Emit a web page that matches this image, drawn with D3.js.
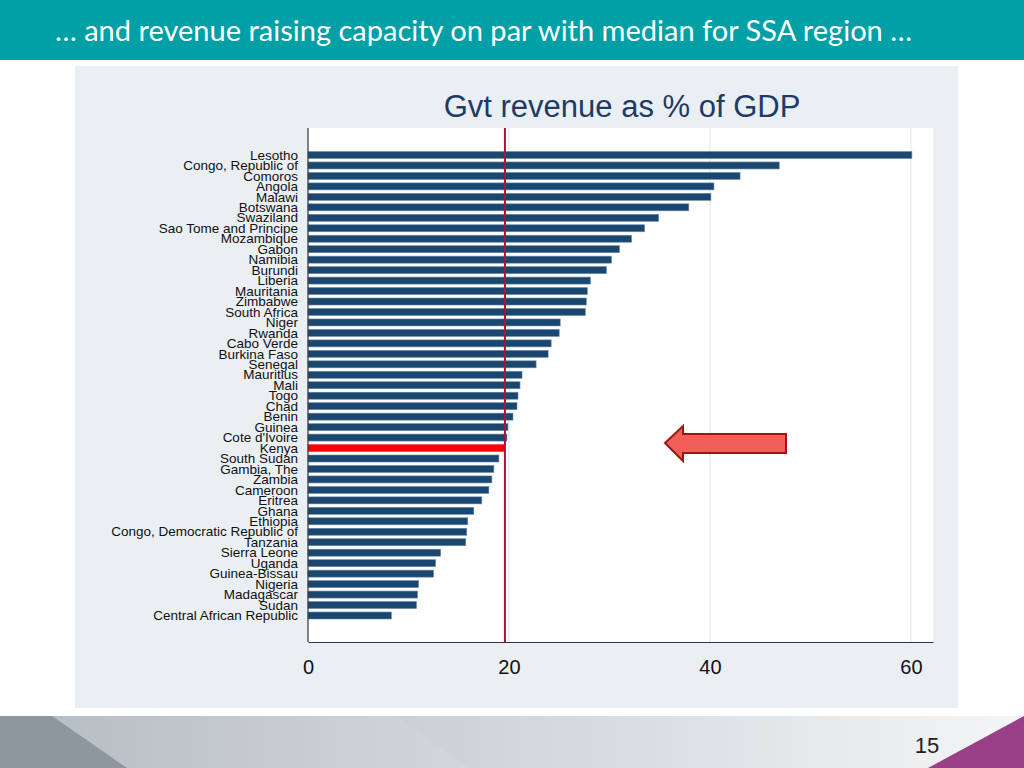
<!DOCTYPE html>
<html>
<head>
<meta charset="utf-8">
<script src="https://cdn.jsdelivr.net/npm/d3@7/dist/d3.min.js"></script>
<style>
  html, body { margin: 0; padding: 0; background: #ffffff; }
  svg { display: block; }
</style>
</head>
<body>
<svg id="chart" width="1024" height="768"></svg>
<script>
// ---- Data ----
const countries = [
  "Lesotho", "Congo, Republic of", "Comoros", "Angola", "Malawi", "Botswana",
  "Swaziland", "Sao Tome and Principe", "Mozambique", "Gabon", "Namibia", "Burundi",
  "Liberia", "Mauritania", "Zimbabwe", "South Africa", "Niger", "Rwanda",
  "Cabo Verde", "Burkina Faso", "Senegal", "Mauritius", "Mali", "Togo", "Chad",
  "Benin", "Guinea", "Cote d'Ivoire", "Kenya", "South Sudan", "Gambia, The",
  "Zambia", "Cameroon", "Eritrea", "Ghana", "Ethiopia", "Congo, Democratic Republic of",
  "Tanzania", "Sierra Leone", "Uganda", "Guinea-Bissau", "Nigeria", "Madagascar",
  "Sudan", "Central African Republic"
];
const revenue = [
  60.1, 46.9, 43.0, 40.4, 40.1, 37.9,
  34.9, 33.5, 32.2, 31.0, 30.2, 29.7,
  28.1, 27.8, 27.7, 27.6, 25.1, 25.0,
  24.2, 23.9, 22.7, 21.3, 21.1, 20.9, 20.8,
  20.4, 19.9, 19.8, 19.6, 19.0, 18.5,
  18.3, 18.0, 17.3, 16.5, 15.9, 15.8,
  15.7, 13.2, 12.7, 12.5, 11.0, 10.9,
  10.8, 8.3
];
const highlight = "Kenya";
const medianValue = 19.6;
const xTicks = [0, 20, 40, 60];
const chartTitle = "Gvt revenue as % of GDP";
const slideTitle = "\u2026 and revenue raising capacity on par with median for SSA region \u2026";
const pageNumber = "15";

const data = countries.map((c, i) => ({ country: c, value: revenue[i] }));

const svg = d3.select("#chart");

// ---- Slide header ----
svg.append("rect").attr("x", 0).attr("y", 0).attr("width", 1024).attr("height", 60)
  .attr("fill", "#00a0a6");
svg.append("text").attr("x", 55).attr("y", 41)
  .attr("fill", "#ffffff")
  .attr("font-family", "Lato, 'Open Sans', sans-serif")
  .attr("font-size", 28)
  .attr("textLength", 857).attr("lengthAdjust", "spacingAndGlyphs")
  .text(slideTitle);

// ---- Footer ----
const defs = svg.append("defs");
const g1 = defs.append("linearGradient").attr("id", "fg1").attr("x1", "0").attr("x2", "1");
g1.append("stop").attr("offset", "0").attr("stop-color", "#b3bbc2");
g1.append("stop").attr("offset", "1").attr("stop-color", "#d3d7da");
const g2 = defs.append("linearGradient").attr("id", "fg2").attr("x1", "0").attr("x2", "1");
g2.append("stop").attr("offset", "0").attr("stop-color", "#b1b8be");
g2.append("stop").attr("offset", "1").attr("stop-color", "#f4f5f6");

svg.append("rect").attr("x", 0).attr("y", 716).attr("width", 1024).attr("height", 52)
  .attr("fill", "url(#fg2)");
svg.append("path").attr("d", "M0,716 L395,716 L470,768 L0,768 Z").attr("fill", "url(#fg1)");
svg.append("path").attr("d", "M0,716 L52,716 L127,768 L0,768 Z").attr("fill", "#8e979f");
svg.append("path").attr("d", "M1024,716 L1024,768 L928,768 Z").attr("fill", "#9a4089");
svg.append("text").attr("x", 927).attr("y", 753).attr("text-anchor", "middle")
  .attr("font-family", "'Liberation Sans Narrow', 'Liberation Sans', Arial, sans-serif")
  .attr("font-size", 22).attr("fill", "#222").text(pageNumber);

// ---- Chart panel ----
svg.append("rect").attr("x", 75).attr("y", 66).attr("width", 883).attr("height", 642)
  .attr("fill", "#eaeff3");

const plot = { left: 308, right: 933, top: 128, bottom: 642 };
svg.append("rect").attr("x", plot.left).attr("y", plot.top)
  .attr("width", plot.right - plot.left).attr("height", plot.bottom - plot.top)
  .attr("fill", "#ffffff");

svg.append("text").attr("x", 622).attr("y", 117).attr("text-anchor", "middle")
  .attr("font-family", "'Liberation Sans', Arial, sans-serif")
  .attr("font-size", 31).attr("fill", "#1e3a66").text(chartTitle);

const x = d3.scaleLinear().domain([0, 62.2]).range([plot.left, plot.right]);
const y = d3.scalePoint().domain(countries).range([155, 615.5]);
const barH = 7;

// gridlines
svg.append("g").selectAll("line").data(xTicks.filter(t => t > 0)).join("line")
  .attr("x1", d => x(d)).attr("x2", d => x(d))
  .attr("y1", plot.top).attr("y2", plot.bottom)
  .attr("stroke", "#e4e8eb").attr("stroke-width", 1.2);

// bars
svg.append("g").selectAll("rect").data(data).join("rect")
  .attr("x", x(0))
  .attr("y", d => y(d.country) - barH / 2)
  .attr("width", d => x(d.value) - x(0))
  .attr("height", barH)
  .attr("fill", d => d.country === highlight ? "#ff0000" : "#1a476f")
  .attr("stroke", d => d.country === highlight ? "#ff3030" : "#6d8aa6")
  .attr("stroke-width", 0.6);

// median line
svg.append("line").attr("x1", x(medianValue)).attr("x2", x(medianValue))
  .attr("y1", plot.top).attr("y2", plot.bottom)
  .attr("stroke", "#b0103a").attr("stroke-width", 2);

// y axis line
svg.append("line").attr("x1", plot.left).attr("x2", plot.left)
  .attr("y1", plot.top).attr("y2", plot.bottom)
  .attr("stroke", "#333").attr("stroke-width", 1.2);

// country labels
svg.append("g").selectAll("text").data(data).join("text")
  .attr("x", 298)
  .attr("y", d => y(d.country) + 4.7)
  .attr("text-anchor", "end")
  .attr("font-family", "'Liberation Sans', Arial, sans-serif")
  .attr("font-size", 13.5)
  .attr("fill", "#111")
  .text(d => d.country);

// x axis
const xAxis = d3.axisBottom(x).tickValues(xTicks).tickSize(0).tickPadding(18)
  .tickFormat(d3.format("d"));
const ax = svg.append("g").attr("transform", `translate(0,${plot.bottom})`).call(xAxis);
ax.select(".domain").attr("stroke", "#333").attr("stroke-width", 1.2);
ax.selectAll("text").attr("font-family", "'Liberation Sans', Arial, sans-serif")
  .attr("font-size", 20).attr("fill", "#111");

// arrow annotation
svg.append("path")
  .attr("d", "M665,443 L683,426 L683,434 L786,434 L786,453 L683,453 L683,461 Z")
  .attr("fill", "#f25f58").attr("stroke", "#a01515").attr("stroke-width", 2)
  .attr("stroke-linejoin", "miter");
</script>
</body>
</html>
